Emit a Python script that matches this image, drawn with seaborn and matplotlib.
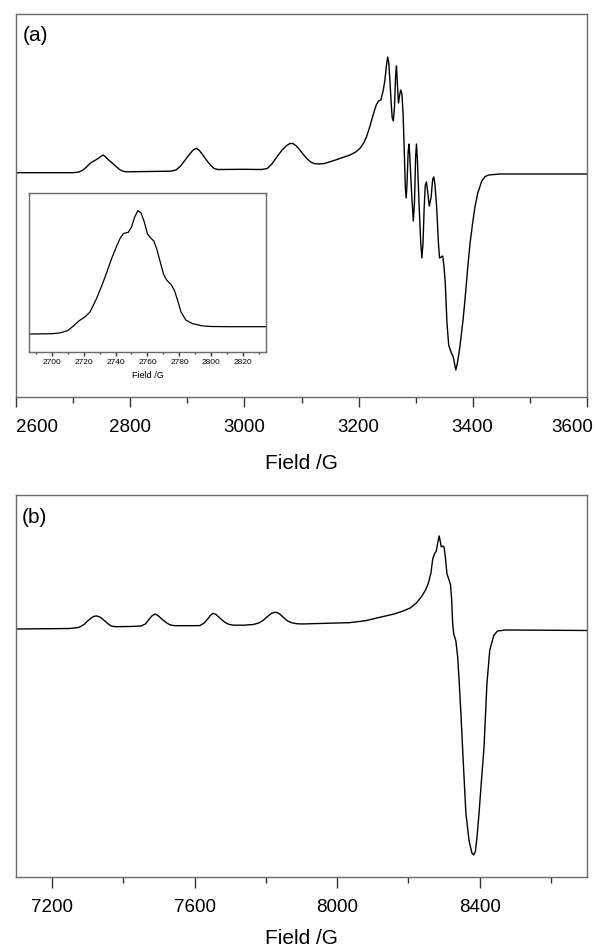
import numpy as np
import pandas as pd
import seaborn as sns
import matplotlib.pyplot as plt
from matplotlib.ticker import MultipleLocator
from matplotlib.transforms import ScaledTranslation

# (a) X-band spectrum: field /G, signal in arbitrary units (baseline = 0)
field_a = [2599, 2650, 2700, 2710, 2717, 2724, 2730, 2736, 2742, 2747,
           2752, 2756, 2760, 2765, 2770, 2775, 2781, 2787, 2793, 2830,
           2870, 2880, 2888, 2896, 2904, 2910, 2916, 2921, 2927, 2934,
           2941, 2947, 2953, 3000, 3030, 3040, 3048, 3057, 3066, 3074,
           3080, 3085, 3091, 3097, 3104, 3110, 3116, 3122, 3130, 3140,
           3156, 3170, 3185, 3195, 3203, 3209, 3214, 3219, 3223, 3227,
           3231, 3235, 3239, 3243, 3246, 3249, 3251, 3253, 3255, 3257,
           3259, 3261, 3263, 3265, 3266.5, 3268, 3270, 3272, 3274, 3276,
           3278, 3280, 3282, 3283.5, 3285, 3287, 3288.5, 3290, 3293, 3296,
           3298, 3300, 3301.5, 3303, 3306, 3309, 3311, 3313, 3315, 3317,
           3319, 3321, 3324, 3327, 3330, 3332, 3334, 3337, 3340, 3342,
           3345, 3347.6, 3350, 3352, 3355, 3358, 3362, 3366, 3370.5, 3374,
           3378, 3383, 3387, 3391, 3395.5, 3400, 3404, 3409, 3416, 3422,
           3428, 3448, 3600]
signal_a = [0.3, 0.3, 0.3, 1, 3, 6.5, 10, 12, 14, 16,
            18, 16.5, 14, 11.5, 9, 6.5, 3.5, 1.8, 1.2, 1.5,
            1.8, 3, 7, 13, 19, 23, 24.7, 22.5, 18, 12.5,
            7.5, 4.5, 3.5, 3.7, 3.5, 4.5, 9, 16.3, 23, 27.5,
            29.5, 29.5, 27, 23, 18, 14, 11, 9.5, 9, 9.5,
            12.3, 15, 18, 21, 25, 30, 36.3, 45, 53, 61,
            68, 72, 73, 82, 92, 108, 116, 110, 92, 72,
            55, 52, 66, 98, 107, 90, 70, 78, 83, 79,
            60, 25, -15, -25, -10, 22, 29, 15, -20, -48,
            -30, 15, 29, 15, -30, -70, -85, -70, -35, -12,
            -9, -18, -33, -25, -6, -4, -12, -35, -70, -85,
            -84, -83, -95, -110, -150, -172, -179, -184, -197, -188,
            -172, -148, -124, -97, -70, -50, -34, -20, -8, -3.5,
            -2, -1, -1]

# inset: first low-field line, expanded
field_in = [2686, 2700, 2705, 2710, 2714, 2717, 2721, 2724, 2728, 2732,
            2735, 2738, 2741, 2743, 2745, 2748, 2750, 2752, 2754, 2756,
            2758, 2760, 2762, 2764, 2766, 2768, 2770, 2772, 2775, 2777,
            2779, 2781, 2784, 2788, 2794, 2800, 2812, 2834]
signal_in = [0, 0.3, 1, 3.3, 8.5, 13, 17.3, 22, 35, 50.7,
             64, 77.3, 89, 96, 100.5, 101.7, 107, 117, 123.3, 121,
             112, 100, 96, 93, 84, 72, 60, 54, 49, 43,
             33, 22, 14, 10.5, 8.2, 7.5, 7.3, 7.3]

# (b) Q-band spectrum
field_b = [7099, 7200, 7250, 7275, 7290, 7300, 7310, 7318, 7326, 7334,
           7342, 7350, 7358, 7366, 7377, 7420, 7450, 7462, 7472, 7480,
           7489, 7497, 7505, 7513, 7522, 7532, 7545, 7600, 7615, 7627,
           7637, 7645, 7652, 7660, 7668, 7677, 7686, 7696, 7710, 7740,
           7765, 7780, 7792, 7803, 7815, 7825, 7833, 7842, 7851, 7860,
           7870, 7885, 7900, 7950, 8000, 8034, 8080, 8127, 8160, 8185,
           8205, 8222, 8236, 8248, 8256, 8263, 8268, 8273, 8278, 8282,
           8286, 8289, 8292, 8296, 8300, 8304, 8308, 8313, 8318, 8321,
           8324, 8327, 8333, 8338, 8342, 8347, 8354, 8361, 8370, 8378,
           8383, 8388, 8393, 8398, 8405, 8412, 8420, 8428, 8435, 8440,
           8450, 8473, 8700]
signal_b = [0, 0.3, 0.5, 1.5, 4.5, 8, 11, 12.7, 13, 12,
            10, 7.5, 5, 3, 2.3, 2.5, 3, 5, 9.5, 13,
            15, 13.5, 11, 8.5, 6, 4, 3.3, 3.3, 3.4, 6,
            10, 13.8, 15.7, 14.5, 12, 9, 6.5, 4.6, 3.8, 3.8,
            4.5, 6, 8.5, 12, 15.5, 16.7, 16.3, 14, 11, 8.3,
            6.5, 5.3, 5, 5.5, 6, 6.3, 8.3, 12.3, 15, 18,
            21, 26, 32, 39, 46, 56, 70, 75, 78, 86,
            93, 88, 82, 83, 82, 70, 55, 50, 44, 30,
            5, -5, -12, -28, -51, -84, -135, -184, -212, -224,
            -226, -222, -205, -184, -150, -118, -55, -21, -12, -6,
            -2, -1, -1.5]

sns.set_theme(style='white')
plt.rcParams['font.family'] = ['Liberation Sans', 'DejaVu Sans']
plt.rcParams['text.color'] = 'black'
plt.rcParams['axes.labelcolor'] = 'black'
plt.rcParams['xtick.labelcolor'] = 'black'

df_a = pd.DataFrame({'field': field_a, 'signal': signal_a})
df_in = pd.DataFrame({'field': field_in, 'signal': signal_in})
df_b = pd.DataFrame({'field': field_b, 'signal': signal_b})

spine_col = '#6a6a6a'

fig = plt.figure(figsize=(5.95, 9.47), dpi=100)
ax_a = fig.add_axes([0.0274, 0.5808, 0.9587, 0.4044])
ax_b = fig.add_axes([0.0274, 0.0739, 0.9587, 0.4029])
ax_in = fig.add_axes([0.0492, 0.6286, 0.3973, 0.1673])


def style_axis(ax, ticks, minor, size, length, pad):
    for s in ax.spines.values():
        s.set_visible(True)
        s.set_color(spine_col)
        s.set_linewidth(1.0)
    ax.set_yticks([])
    ax.set_ylabel('')
    ax.set_xticks(ticks)
    ax.xaxis.set_minor_locator(MultipleLocator(minor))
    ax.tick_params(axis='x', which='major', direction='out', bottom=True,
                   length=length, width=1, color='#333333', labelsize=size,
                   pad=pad, labelcolor='black')
    ax.tick_params(axis='x', which='minor', direction='out', bottom=True,
                   length=length * 0.55, width=1, color='#333333')


sns.lineplot(data=df_a, x='field', y='signal', ax=ax_a, color='black',
             linewidth=1.0, estimator=None)
ax_a.set_xlim(2600, 3600)
ax_a.set_ylim(-224, 159)
style_axis(ax_a, list(range(2600, 3601, 200)), 100, 13.5, 7.5, 8)
ax_a.set_xlabel('Field /G', fontsize=15, labelpad=13, color='black')
ax_a.text(0.011, 0.968, '(a)', transform=ax_a.transAxes, ha='left', va='top',
          fontsize=15, color='black')
# keep the end labels inside the figure
labs = ax_a.get_xticklabels()
labs[0].set_ha('left')
labs[-1].set_ha('right')
labs[-1].set_transform(labs[-1].get_transform()
                       + ScaledTranslation(0.06, 0, fig.dpi_scale_trans))

sns.lineplot(data=df_in, x='field', y='signal', ax=ax_in, color='black',
             linewidth=0.9, estimator=None)
ax_in.set_xlim(2686, 2834)
ax_in.set_ylim(-17.7, 140.7)
style_axis(ax_in, list(range(2700, 2821, 20)), 10, 6, 3, 2.5)
ax_in.set_xlabel('Field /G', fontsize=6.5, labelpad=3, color='black')

sns.lineplot(data=df_b, x='field', y='signal', ax=ax_b, color='black',
             linewidth=1.0, estimator=None)
ax_b.set_xlim(7100, 8700)
ax_b.set_ylim(-248, 133.5)
style_axis(ax_b, [7200, 7600, 8000, 8400], 200, 13.5, 8, 8)
ax_b.set_xlabel('Field /G', fontsize=15, labelpad=9, color='black')
ax_b.text(0.010, 0.966, '(b)', transform=ax_b.transAxes, ha='left', va='top',
          fontsize=15, color='black')

fig.savefig('out.png', dpi=100)
